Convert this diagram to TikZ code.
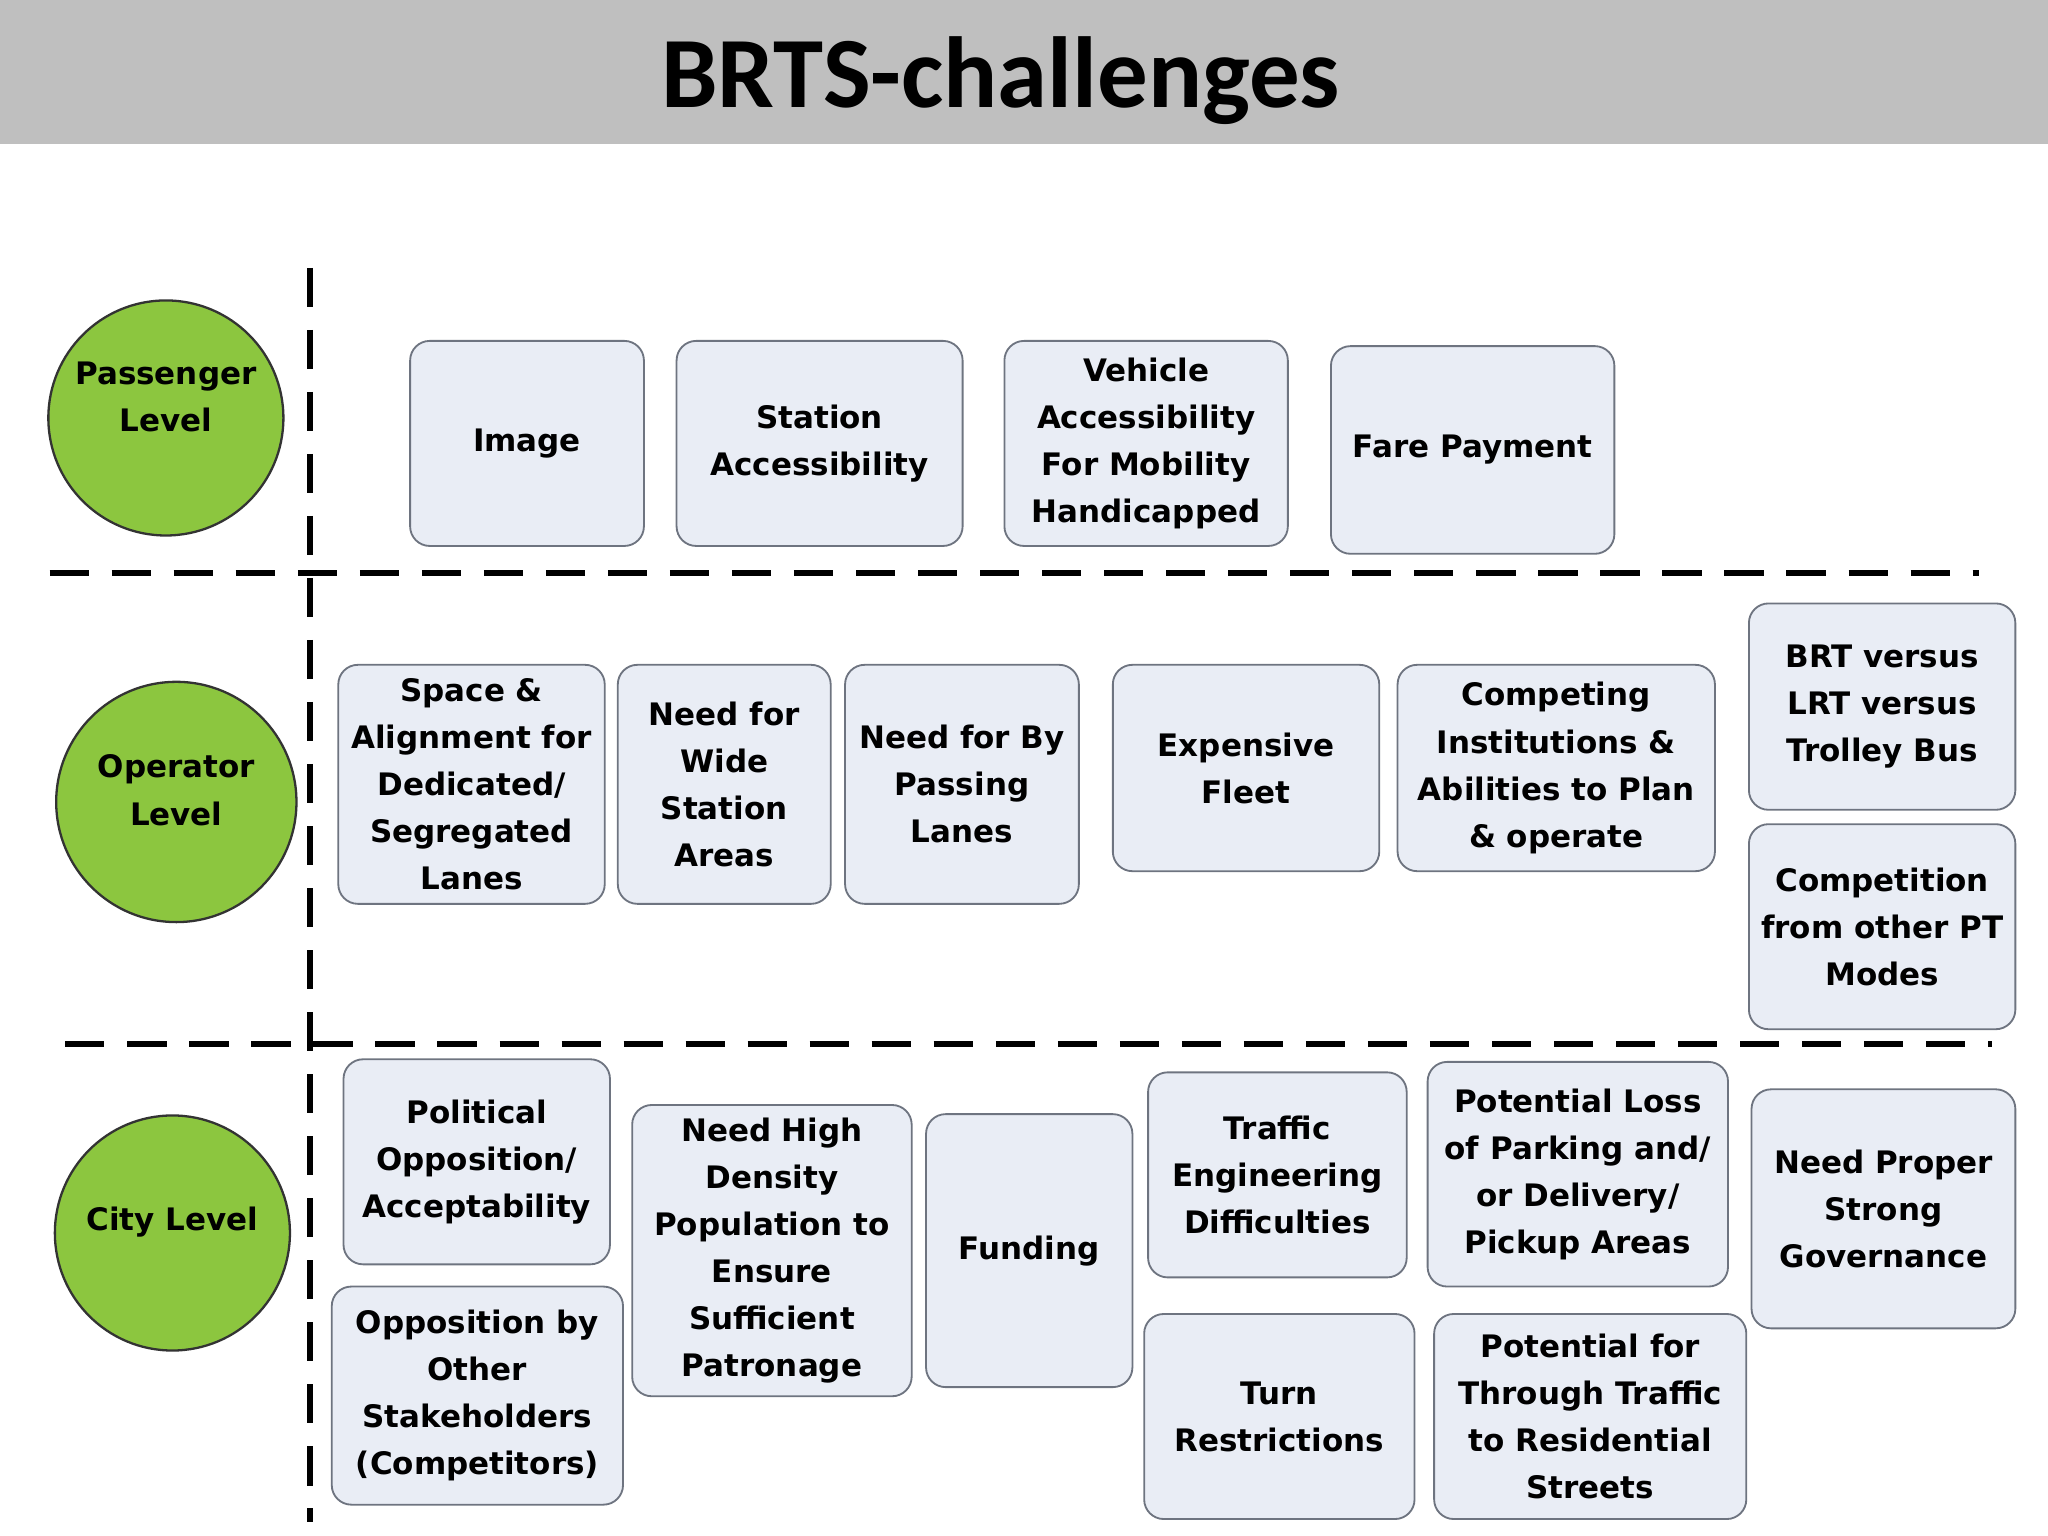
\documentclass[tikz,border=0pt]{standalone}
\usepackage{fontspec}
\setmainfont{DejaVu Sans}
\newfontfamily\titlefont{Carlito}
\definecolor{boxfill}{HTML}{E9EDF5}
\definecolor{boxline}{HTML}{6E7480}
\definecolor{lvgreen}{HTML}{8CC63F}
\definecolor{hdr}{HTML}{BFBFBF}
\begin{document}
\begin{tikzpicture}[x=0.02cm,y=-0.02cm,
  box/.style={draw=boxline,line width=0.8pt,fill=boxfill,rounded corners=0.3cm,align=center,
    font=\bfseries\fontsize{13.5}{20.5}\selectfont,inner sep=0pt},
  lvl/.style={circle,draw=black!80,line width=1pt,fill=lvgreen,inner sep=0pt},
  lvltxt/.style={align=center,inner sep=0pt,font=\bfseries\fontsize{13.5}{20.5}\selectfont},
  sep/.style={line width=2.6pt,dash pattern=on 0.6cm off 0.35cm}]
\newcommand\bx[6]{\node[box,minimum width={(#4-#2)*0.02cm},minimum height={(#5-#3)*0.02cm}] (#1) at ({(#2+#4)/2},{(#3+#5)/2}) {#6};}
\useasboundingbox (0,0) rectangle (1568,1176);
\fill[hdr] (0,0) rectangle (1568,110);
\node[font=\titlefont\bfseries\fontsize{44}{48}\selectfont] (title) at (766,62) {BRTS-challenges};
\draw[sep] (237,205) -- (237,1165);
\draw[sep] (38,439) -- (1515,439);
\draw[sep] (50,799) -- (1525,799);
\node[lvl,minimum size=3.6cm] (pl) at (127,320) {};
\node[lvltxt] (plt) at (127,304) {Passenger\\Level};
\node[lvl,minimum size=3.68cm] (ol) at (135,614) {};
\node[lvltxt] (olt) at (135,605) {Operator\\Level};
\node[lvl,minimum size=3.6cm] (cl) at (132,944) {};
\node[lvltxt] (clt) at (132,936) {City Level};
\bx{img}{314}{261}{493}{418}{Image}
\bx{sa}{518}{261}{737}{418}{Station\\Accessibility}
\bx{va}{769}{261}{986}{418}{Vehicle\\Accessibility\\For Mobility\\Handicapped}
\bx{fp}{1019}{265}{1236}{424}{Fare Payment}
\bx{sp}{259}{509}{463}{692}{Space \&\\Alignment for\\Dedicated/\\Segregated\\Lanes}
\bx{nw}{473}{509}{636}{692}{Need for\\Wide\\Station\\Areas}
\bx{nb}{647}{509}{826}{692}{Need for By\\Passing\\Lanes}
\bx{ef}{852}{509}{1056}{667}{Expensive\\Fleet}
\bx{ci}{1070}{509}{1313}{667}{Competing\\Institutions \&\\Abilities to Plan\\\& operate}
\bx{brt}{1339}{462}{1543}{620}{BRT versus\\LRT versus\\Trolley Bus}
\bx{cpt}{1339}{631}{1543}{788}{Competition\\from other PT\\Modes}
\bx{po}{263}{811}{467}{968}{Political\\Opposition/\\Acceptability}
\bx{os}{254}{985}{477}{1152}{Opposition by\\Other\\Stakeholders\\(Competitors)}
\bx{nh}{484}{846}{698}{1069}{Need High\\Density\\Population to\\Ensure\\Sufficient\\Patronage}
\bx{fu}{709}{853}{867}{1062}{Funding}
\bx{te}{879}{821}{1077}{978}{Traffic\\Engineering\\Difficulties}
\bx{pl2}{1093}{813}{1323}{985}{Potential Loss\\of Parking and/\\or Delivery/\\Pickup Areas}
\bx{ng}{1341}{834}{1543}{1017}{Need Proper\\Strong\\Governance}
\bx{tr}{876}{1006}{1083}{1163}{Turn\\Restrictions}
\bx{pt}{1098}{1006}{1337}{1163}{Potential for\\Through Traffic\\to Residential\\Streets}
\end{tikzpicture}
\end{document}
